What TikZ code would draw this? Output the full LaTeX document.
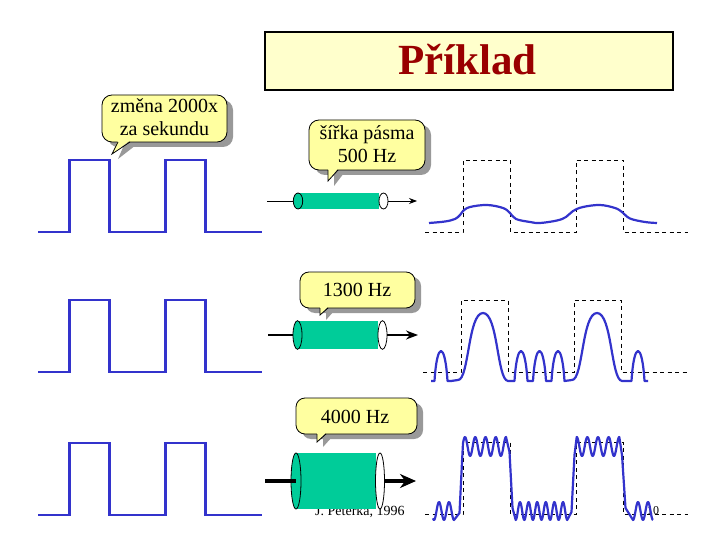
\documentclass[tikz,border=0pt]{standalone}
\usepackage{fontspec}
\setmainfont{Liberation Serif}
\usetikzlibrary{arrows.meta,shapes.geometric}
\definecolor{wavec}{RGB}{51,51,204}
\definecolor{tealc}{RGB}{0,204,153}
\definecolor{shadowc}{RGB}{153,153,153}
\definecolor{callc}{RGB}{255,255,160}
\definecolor{titlefill}{RGB}{255,255,204}
\definecolor{titlec}{RGB}{153,0,0}
% #1 left #2 top #3 right #4 bottom #5 pointer base left x #6 pointer base right x #7 tip x #8 tip y #9 corner radius
\newcommand{\calloutbox}[9]{%
  \fill[shadowc, rounded corners=#9] (#1+6,#2+5) rectangle (#3+6,#4+5);
  \fill[shadowc] (#5+6,#4+3) -- (#6+6,#4+3) -- (#7+6,#8+5) -- cycle;
  \draw[line width=0.8pt, fill=callc, rounded corners=#9] (#1,#2) rectangle (#3,#4);
  \fill[callc] (#5,#4-1.5) -- (#6,#4-1.5) -- (#7,#8) -- cycle;
  \draw[line width=0.8pt, line join=miter] (#5,#4) -- (#7,#8) -- (#6,#4);
}
\tikzset{
  sqwave/.style={draw=wavec, line width=2.4pt, line join=miter},
  resp/.style={draw=wavec, line width=2.2pt, line join=round},
  ideal/.style={draw=black, line width=0.9pt, dash pattern=on 4pt off 3.5pt},
  calltext/.style={font=\fontsize{20}{24}\selectfont, inner sep=0pt, anchor=base},
  cylbody/.style={rectangle, fill=tealc, inner sep=0pt},
  capl/.style={ellipse, draw=black, fill=tealc, line width=0.8pt, inner sep=0pt},
  capr/.style={ellipse, draw=black, fill=white, line width=0.8pt, inner sep=0pt},
  smalltext/.style={inner sep=0pt, anchor=base west}
}
\begin{document}
\begin{tikzpicture}[x=1pt,y=-1pt]
\useasboundingbox (0,0) rectangle (720,540);
\fill[white] (0,0) rectangle (720,540);

% title
\node[rectangle, draw=black, line width=1.5pt, fill=titlefill, minimum width=408pt, minimum height=58pt, inner sep=0pt] (titlebox) at (469,61) {};
\node[font=\fontsize{43}{48}\selectfont\bfseries, text=titlec, anchor=base, inner sep=0pt] (title) at (467.5,75) {Příklad};

% input square waves
\foreach \lo/\hi in {232/160, 372/300, 515/443}{
  \draw[sqwave] (38,\lo) -- (69.5,\lo) -- (69.5,\hi) -- (109.5,\hi) -- (109.5,\lo) -- (165.5,\lo) -- (165.5,\hi) -- (205.5,\hi) -- (205.5,\lo) -- (261.5,\lo);
}

% ideal (dashed) square waves
\foreach \a/\b/\c/\d/\e/\f/\lo/\hi in {425/463/510/576/623/688/232/160, 423/461/508/574/621/687/372/300, 425/463/510/576/623/688/514/442}{
  \draw[ideal] (\a,\lo) -- (\b,\lo) -- (\b,\hi) -- (\c,\hi) -- (\c,\lo) -- (\d,\lo) -- (\d,\hi) -- (\e,\hi) -- (\e,\lo) -- (\f,\lo);
}

% footer texts
\node[smalltext, font=\fontsize{14}{16}\selectfont] (author) at (315,515) {J. Peterka, 1996};
\node[smalltext, font=\fontsize{12}{14}\selectfont] (pagenum) at (647,514) {10};

% response 500 Hz
\draw[resp] plot[smooth, tension=0.6] coordinates {(429,223) (445,221.5) (455,219) (460,215) (463,211) (470,207) (487,205) (503,208) (510,213) (516,219) (530,222) (540,223) (557,220.5) (566,217) (573,211) (583,207) (600,205) (615,208) (622,212) (630,218.5) (645,222) (657,223)};

% response 1300 Hz
\draw[resp] (431,381) -- (434.5,381) .. controls (437,341) and (445,341) .. (447.5,381) -- (451,381) -- (458,380)
  .. controls (469,380) and (468,313) .. (483,313) .. controls (498,313) and (497,380) .. (508,381)
  -- (514.5,381) .. controls (517,341) and (525,341) .. (527.5,381)
  -- (533,381) .. controls (535.5,341) and (543.5,341) .. (546,381)
  -- (551.5,381) .. controls (554,341) and (562,341) .. (564.5,381)
  -- (572,380) .. controls (583,380) and (582,313) .. (597,313) .. controls (612,313) and (611,380) .. (622,381)
  -- (631.5,381) .. controls (634,341) and (642,341) .. (644.5,381) -- (648,381);

% response 4000 Hz
\draw[resp] plot[domain=433:454, samples=40] (\x,{511-9*cos(36*(\x-439))})
  -- (459.5,513) -- (462,462)
  -- plot[domain=463:506, samples=80] (\x,{446.5-9.5*cos(35.122*(\x-465))})
  -- (509.5,452) -- (512.5,508)
  -- plot[domain=515.7:567.2, samples=90] (\x,{511-9*cos(41.86*(\x-520))})
  -- (571.5,512) -- (574.5,455)
  -- plot[domain=576.7:619.3, samples=80] (\x,{446.5-9.5*cos(33.803*(\x-576.7))})
  -- (622,455) -- (625.5,508)
  -- plot[domain=633:653, samples=40] (\x,{511-9*cos(36*(\x-638))});

% callouts
\calloutbox{102}{95}{227}{142}{118}{130}{112}{154}{10pt}
\node[calltext] (c1a) at (164.5,113) {změna 2000x};
\node[calltext] (c1b) at (164.5,136) {za sekundu};

\calloutbox{309}{120}{425}{170}{328}{338}{328}{181}{10pt}
\node[calltext] (c2a) at (367,140) {šířka pásma};
\node[calltext] (c2b) at (367,163) {500 Hz};

\calloutbox{300}{272}{415}{308}{320}{328}{320}{315}{9pt}
\node[calltext] (c3) at (357,296) {1300 Hz};

\calloutbox{296}{398}{417}{434}{317}{326}{317}{442}{9pt}
\node[calltext] (c4) at (355,423.5) {4000 Hz};

% cylinder 1
\node[cylbody, minimum width=81pt, minimum height=16pt] (body1) at (338.5,201) {};
\node[capl, minimum width=9.4pt, minimum height=16pt] (lcap1) at (298,201) {};
\node[capr, minimum width=9pt, minimum height=16pt] (rcap1) at (383.5,201) {};
\coordinate (in1) at (267,201);
\coordinate (out1) at (417,201);
\draw[line width=0.8pt] (in1) -- (lcap1.west);
\draw[line width=0.8pt, -{Stealth[length=8pt,width=6pt]}] (rcap1.east) -- (out1);

% cylinder 2
\node[cylbody, minimum width=80.5pt, minimum height=28.6pt] (body2) at (337.75,335) {};
\node[capl, minimum width=9pt, minimum height=28.6pt] (lcap2) at (297.5,335) {};
\node[capr, minimum width=9pt, minimum height=28.6pt] (rcap2) at (382.5,335) {};
\coordinate (in2) at (268,335);
\coordinate (out2) at (418,335);
\draw[line width=1.6pt] (in2) -- (lcap2.west);
\draw[line width=1.6pt, -{Stealth[length=12pt,width=9pt]}] (rcap2.east) -- (out2);

% cylinder 3
\node[cylbody, minimum width=79.5pt, minimum height=56pt] (body3) at (335.75,481) {};
\node[capl, minimum width=10pt, minimum height=56pt] (lcap3) at (296,481) {};
\node[capr, minimum width=9pt, minimum height=56pt] (rcap3) at (380,481) {};
\coordinate (in3) at (265,481);
\coordinate (out3) at (416,481);
\draw[line width=4pt] (in3) -- (lcap3.center);
\draw[line width=4pt, -{Stealth[length=16pt,width=14pt]}] (rcap3.east) -- (out3);
\end{tikzpicture}
\end{document}
